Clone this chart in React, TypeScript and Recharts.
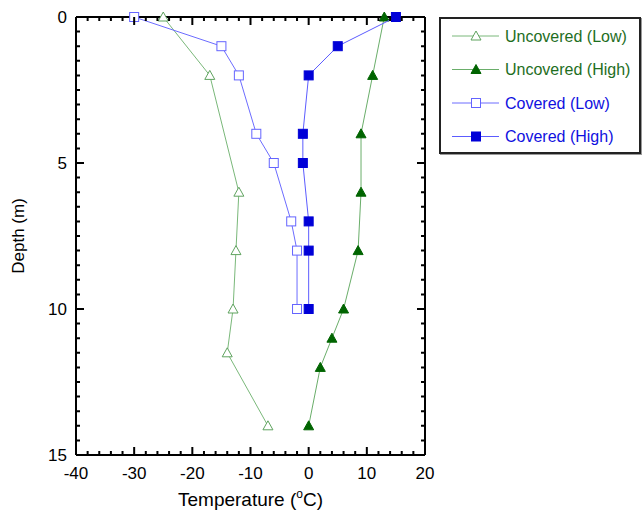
import { ScatterChart, Scatter, XAxis, YAxis } from 'recharts';

// depth (m) vs temperature (C)
const uncoveredLow = [
    {t: -25, d: 0}, {t: -17, d: 2}, {t: -12, d: 6}, {t: -12.5, d: 8},
    {t: -13, d: 10}, {t: -14, d: 11.5}, {t: -7, d: 14},
];
const uncoveredHigh = [
    {t: 13, d: 0}, {t: 11, d: 2}, {t: 9, d: 4}, {t: 9, d: 6}, {t: 8.5, d: 8},
    {t: 6, d: 10}, {t: 4, d: 11}, {t: 2, d: 12}, {t: 0, d: 14},
];
const coveredLow = [
    {t: -30, d: 0}, {t: -15, d: 1}, {t: -12, d: 2}, {t: -9, d: 4},
    {t: -6, d: 5}, {t: -3, d: 7}, {t: -2, d: 8}, {t: -2, d: 10},
];
const coveredHigh = [
    {t: 15, d: 0}, {t: 5, d: 1}, {t: 0, d: 2}, {t: -1, d: 4},
    {t: -1, d: 5}, {t: 0, d: 7}, {t: 0, d: 8}, {t: 0, d: 10},
];

const xMajor = [-40, -30, -20, -10, 0, 10, 20];
const yMajor = [0, 5, 10, 15];
const xMinor = Array.from({length: 31}, (_, i) => -40 + i * 2);
const yMinor = Array.from({length: 31}, (_, i) => i * 0.5);

const series = [
    {name: 'Uncovered (Low)', data: uncoveredLow, kind: 'tri', filled: false, mark: '#5fa35f', line: '#7ab87a', text: '#1e6e1e'},
    {name: 'Uncovered (High)', data: uncoveredHigh, kind: 'tri', filled: true, mark: '#006400', line: '#6aae6a', text: '#1e6e1e'},
    {name: 'Covered (Low)', data: coveredLow, kind: 'sq', filled: false, mark: '#6464ff', line: '#6c6cff', text: '#1010e0'},
    {name: 'Covered (High)', data: coveredHigh, kind: 'sq', filled: true, mark: '#0000d8', line: '#5c5cff', text: '#1010e0'},
];

const FONT = '"Liberation Sans", Arial, sans-serif';
const W = 643, H = 513;
const M = {top: 16, right: 217, bottom: 18, left: 36};
const Y_AXIS_W = 40, X_AXIS_H = 40, TOP_H = 1, RIGHT_W = 1;
// plot box follows from the margins and axis sizes above
const PLOT = {
    left: M.left + Y_AXIS_W,
    right: W - M.right - RIGHT_W,
    top: M.top + TOP_H,
    bottom: H - M.bottom - X_AXIS_H,
};

const Marker = ({cx, cy, kind, filled, color}: any) => {
    if (cx == null || cy == null) return null;
    const fill = filled ? color : '#fff';
    if (kind === 'tri') {
        return <polygon points={`${cx},${cy - 5} ${cx - 5},${cy + 4} ${cx + 5},${cy + 4}`}
                        fill={fill} stroke={color} strokeWidth={1}/>;
    }
    return <rect x={cx - 4.5} y={cy - 4.5} width={9} height={9} fill={fill} stroke={color} strokeWidth={1}/>;
};

// inward tick marks on all four sides of the frame
const FrameTicks = () => {
    const sx = (v: number) => PLOT.left + (v + 40) / 60 * (PLOT.right - PLOT.left);
    const sy = (v: number) => PLOT.top + v / 15 * (PLOT.bottom - PLOT.top);
    let d = '';
    xMinor.forEach((v) => {
        const len = xMajor.includes(v) ? 8 : 4;
        const x = sx(v);
        d += `M${x},${PLOT.bottom}V${PLOT.bottom - len}M${x},${PLOT.top}V${PLOT.top + len}`;
    });
    yMinor.forEach((v) => {
        const len = yMajor.includes(v) ? 8 : 4;
        const y = sy(v);
        d += `M${PLOT.left},${y}H${PLOT.left + len}M${PLOT.right},${y}H${PLOT.right - len}`;
    });
    return (
        <svg width={W} height={H} style={{position: 'absolute', left: 0, top: 0, pointerEvents: 'none'}}>
            <path d={d} stroke="#000" strokeWidth={2} fill="none"/>
        </svg>
    );
};

const TickLabel = (props: any) => {
    const {x, y, payload, side} = props;
    if (side === 'bottom') {
        return <text x={x} y={y + 24} textAnchor="middle" fontSize={17} fontFamily={FONT} fill="#000">{payload.value}</text>;
    }
    return <text x={x - 9} y={y} textAnchor="end" dominantBaseline="central" fontSize={17} fontFamily={FONT} fill="#000">{payload.value}</text>;
};

const TempLabel = ({viewBox}: any) => {
    const cx = viewBox.x + viewBox.width / 2;
    const by = viewBox.y + 51;
    return (
        <text x={cx} y={by} textAnchor="middle" fontSize={19} fontFamily={FONT} fill="#000">
            Temperature (<tspan fontSize={12} dy={-8}>o</tspan><tspan dy={8}>C)</tspan>
        </text>
    );
};

const DepthLabel = ({viewBox}: any) => {
    const cx = 18;
    const cy = viewBox.y + viewBox.height / 2;
    return (
        <text x={cx} y={cy} transform={`rotate(-90 ${cx} ${cy})`} textAnchor="middle" dominantBaseline="central"
              fontSize={17} fontFamily={FONT} fill="#000">Depth (m)</text>
    );
};

const LegendBox = () => (
    <div style={{
        position: 'absolute', left: 439, top: 17, width: 198, height: 133,
        border: '2px solid #222', boxShadow: '1px 1px 0 #999', background: '#fff',
    }}>
        <svg width={198} height={133}>
            {series.map((s, i) => {
                const cy = 17 + i * 33.5;
                return (
                    <g key={s.name}>
                        <line x1={11} x2={58} y1={cy} y2={cy} stroke={s.line} strokeWidth={1}/>
                        <Marker cx={35} cy={cy} kind={s.kind} filled={s.filled} color={s.mark}/>
                        <text x={64} y={cy} dominantBaseline="central" fontSize={16} fontFamily={FONT} fill={s.text}>{s.name}</text>
                    </g>
                );
            })}
        </svg>
    </div>
);

const App = () => {
    return (
        <div style={{position: 'absolute', left: 0, top: 0, width: W, height: H, background: '#fff'}}>
            <ScatterChart width={W} height={H} margin={M}>
                <XAxis xAxisId={0} type="number" dataKey="t" domain={[-40, 20]} ticks={xMajor} interval={0}
                       orientation="bottom" height={X_AXIS_H} tickSize={0} tickMargin={0} tickLine={false}
                       axisLine={{stroke: '#000', strokeWidth: 2}}
                       tick={(p: any) => <TickLabel {...p} side="bottom"/>}
                       label={{content: (p: any) => <TempLabel {...p}/>}}/>
                <XAxis xAxisId="top" type="number" dataKey="t" domain={[-40, 20]} orientation="top" height={TOP_H}
                       tick={false} tickLine={false} axisLine={{stroke: '#000', strokeWidth: 2}}/>
                <YAxis yAxisId={0} type="number" dataKey="d" domain={[0, 15]} reversed ticks={yMajor} interval={0}
                       width={Y_AXIS_W} tickSize={0} tickMargin={0} tickLine={false}
                       axisLine={{stroke: '#000', strokeWidth: 2}}
                       tick={(p: any) => <TickLabel {...p} side="left"/>}
                       label={{content: (p: any) => <DepthLabel {...p}/>}}/>
                <YAxis yAxisId="right" orientation="right" type="number" dataKey="d" domain={[0, 15]} reversed
                       width={RIGHT_W} tick={false} tickLine={false} axisLine={{stroke: '#000', strokeWidth: 2}}/>
                {series.map((s) => (
                    <Scatter key={s.name} name={s.name} data={s.data} xAxisId={0} yAxisId={0}
                             line={{stroke: s.line, strokeWidth: 1}} lineType="joint"
                             shape={(p: any) => <Marker {...p} kind={s.kind} filled={s.filled} color={s.mark}/>}
                             isAnimationActive={false}/>
                ))}
            </ScatterChart>
            <FrameTicks/>
            <LegendBox/>
        </div>
    );
};

export default App;
